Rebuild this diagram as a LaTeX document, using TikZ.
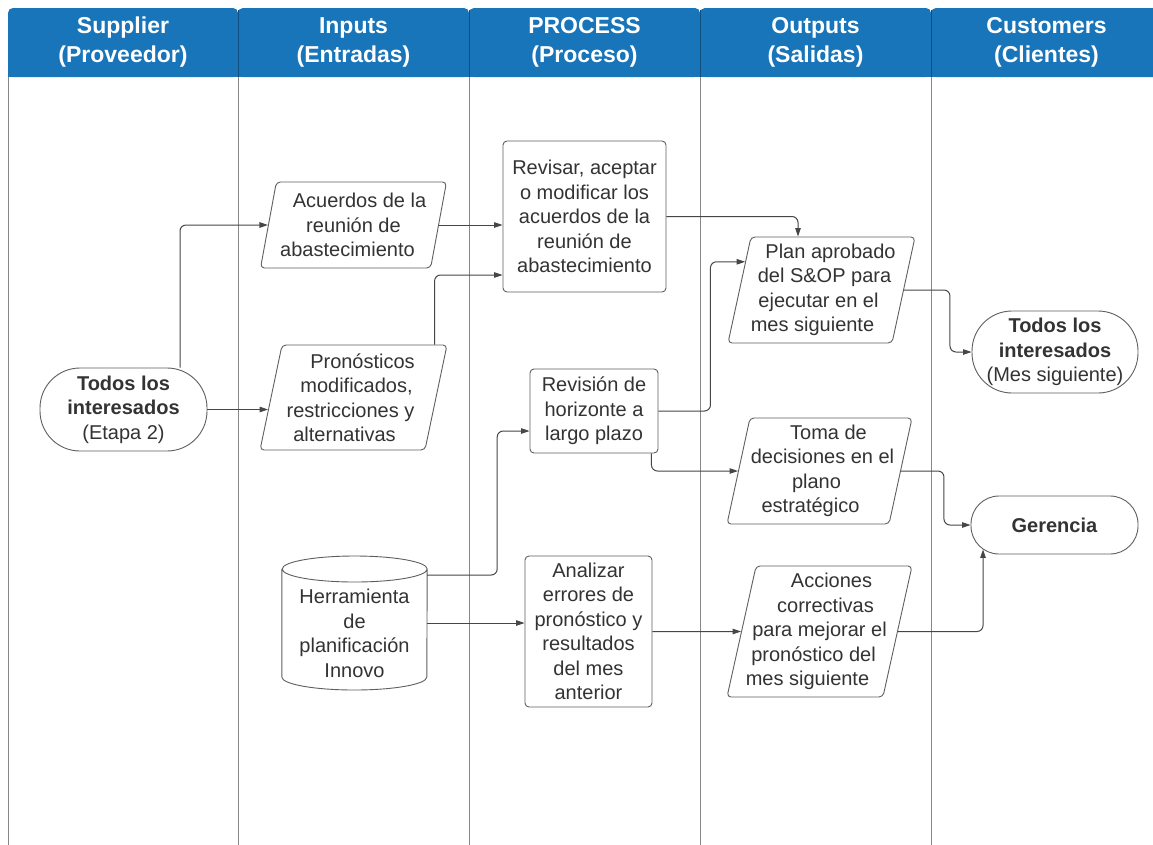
\documentclass[tikz,border=0pt]{standalone}
\usepackage{fontspec}
\setmainfont{Liberation Sans}
\usetikzlibrary{arrows.meta,shapes.geometric,calc}
\definecolor{hdrblue}{RGB}{24,117,186}
\definecolor{hdrline}{RGB}{16,78,128}
\definecolor{txt}{RGB}{51,51,51}
\definecolor{lanegray}{RGB}{135,135,135}
\definecolor{edgegray}{RGB}{95,95,95}
\definecolor{wiregray}{RGB}{70,70,70}
% a text line moved sideways by #1 pt, to follow the slant of a data shape;
% it takes no width, so the shape keeps its size
\newcommand\slantln[2]{\makebox[0pt][c]{\hspace*{#1pt}\hspace*{#1pt}#2}}
\begin{document}
\begin{tikzpicture}[x=1pt,y=-1pt,
  every node/.style={font=\fontsize{20}{24.5}\selectfont, text=txt, align=center, inner sep=0pt},
  hdrtext/.style={font=\fontsize{23}{29}\selectfont\bfseries, text=white},
  lane/.style={draw=lanegray, line width=1pt},
  procbox/.style={draw=edgegray, line width=0.9pt, rounded corners=4pt},
  iobox/.style={trapezium, trapezium left angle=76, trapezium right angle=104,
    trapezium stretches body, draw=edgegray, line width=0.9pt, rounded corners=4pt},
  terminal/.style={draw=edgegray, line width=0.9pt},
  shapeline/.style={draw=edgegray, line width=0.9pt},
  conn/.style={draw=wiregray, line width=1pt, rounded corners=6pt,
    -{Triangle[length=8.5pt,width=5.5pt]}}
]
\useasboundingbox (0,0) rectangle (1153,844);
\clip (0,0) rectangle (1153,844);
\fill[white] (0,0) rectangle (1153,844);

% swimlane headers
\foreach \xa/\xb in {8/238,238/469,469/700,700/931,931/1162}{
  \fill[hdrblue, rounded corners=5pt] (\xa,8) rectangle (\xb,77);
  \fill[hdrblue] (\xa,40) rectangle (\xb,77);
}
\foreach \xa in {238,469,700,931}{
  \draw[hdrline, line width=0.8pt] (\xa,10) -- (\xa,77);
}
\node[hdrtext] (h1) at (123,42) {Supplier\\(Proveedor)};
\node[hdrtext] (h2) at (353.5,42) {Inputs\\(Entradas)};
\node[hdrtext] (h3) at (584.5,42) {PROCESS\\(Proceso)};
\node[hdrtext] (h4) at (815.5,42) {Outputs\\(Salidas)};
\node[hdrtext] (h5) at (1046.5,42) {Customers\\(Clientes)};

% swimlane separators
\foreach \xa in {8,238,469,700,931}{
  \draw[lane] (\xa,77) -- (\xa,846);
}

% supplier
\node[terminal, rounded corners=40pt, minimum width=167pt, minimum height=83pt]
  (t1) at (123.5,409.5) {\textbf{Todos los}\\\textbf{interesados}\\(Etapa 2)};

% inputs
\node[iobox, minimum width=186pt, minimum height=86pt] (acu) at (353.5,225)
  {\slantln{6}{Acuerdos de la}\\\slantln{0}{reunión de}\\\slantln{-6}{abastecimiento}};
\node[iobox, minimum width=187pt, minimum height=105pt] (pron) at (353.5,397.5)
  {\slantln{9}{Pronósticos}\\\slantln{3}{modificados,}\\\slantln{-3}{restricciones y}\\\slantln{-9}{alternativas}};
\node[minimum width=145pt, minimum height=113pt] (cyl) at (354.5,633.5)
  {Herramienta\\de\\planificación\\Innovo};
\draw[shapeline] ([yshift=64.5pt]cyl.west) -- ([yshift=-43.5pt]cyl.west)
  arc[start angle=180, end angle=360, x radius=72.5pt, y radius=13pt]
  -- ([yshift=64.5pt]cyl.east)
  arc[start angle=0, end angle=180, x radius=72.5pt, y radius=13pt]
  arc[start angle=180, end angle=360, x radius=72.5pt, y radius=13pt];

% process
\node[procbox, minimum width=163pt, minimum height=151pt] (rev1) at (584.5,216.5)
  {Revisar, aceptar\\o modificar los\\acuerdos de la\\reunión de\\abastecimiento};
\node[procbox, minimum width=128pt, minimum height=84pt] (rev2) at (594,411)
  {Revisión de\\horizonte a\\largo plazo};
\node[procbox, minimum width=127pt, minimum height=151pt] (anal) at (588.5,631.5)
  {Analizar\\errores de\\pronóstico y\\resultados\\del mes\\anterior};

% outputs
\node[iobox, minimum width=187pt, minimum height=106pt] (plan) at (821.5,290)
  {\slantln{9}{Plan aprobado}\\\slantln{3}{del S\&OP para}\\\slantln{-3}{ejecutar en el}\\\slantln{-9}{mes siguiente}};
\node[iobox, minimum width=185pt, minimum height=106pt] (toma) at (819.5,471)
  {\slantln{9}{Toma de}\\\slantln{3}{decisiones en el}\\\slantln{-3}{plano}\\\slantln{-9}{estratégico}};
\node[iobox, minimum width=185pt, minimum height=131pt] (acc) at (819.5,631.5)
  {\slantln{12}{Acciones}\\\slantln{6}{correctivas}\\\slantln{0}{para mejorar el}\\\slantln{-6}{pronóstico del}\\\slantln{-12}{mes siguiente}};

% customers
\node[terminal, rounded corners=40pt, minimum width=166pt, minimum height=82pt]
  (mes) at (1055,352) {\textbf{Todos los}\\\textbf{interesados}\\(Mes siguiente)};
\node[terminal, rounded corners=28pt, minimum width=167pt, minimum height=58pt]
  (ger) at (1054.5,525) {\textbf{Gerencia}};

% connectors
\draw[conn] ([xshift=56.5pt]t1.north) |- (acu);
\draw[conn] (t1.east) -- (t1.east -| {$(pron.top left corner)!0.614!(pron.bottom left corner)$});
\draw[conn] (acu.east) -- (acu.east -| rev1.west);
\draw[conn] ([xshift=-13pt]pron.top right corner) |- ([yshift=-58.5pt]rev1.west);
\draw[conn] (rev1.east) -| ([xshift=-23.5pt]plan.north);
\draw[conn] (rev2.east) -- ++(52,0) |- ($(plan.top left corner)!0.236!(plan.bottom left corner)$);
\draw[conn] ([xshift=-7pt]rev2.south east) |- (toma);
\draw[conn] ([yshift=58.5pt]cyl.east) -- ++(70,0) |- ([yshift=-20pt]rev2.west);
\draw[conn] ([yshift=10.5pt]cyl.east) -- ([yshift=10.5pt]cyl.east -| anal.west);
\draw[conn] (anal.east) -- (acc.west);
\draw[conn] (plan.east) -- ++(46,0) |- (mes.west);
\draw[conn] (toma.east) -- ++(43,0) |- (ger.west);
\draw[conn] (acc.east) -| ([xshift=-71.5pt,yshift=5pt]ger.south);
\end{tikzpicture}
\end{document}
